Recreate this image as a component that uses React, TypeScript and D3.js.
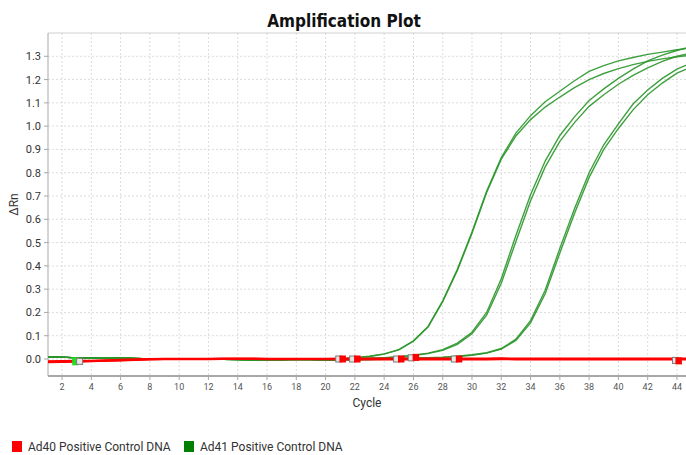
import * as d3 from "d3";

// cycles 1..45
const cycles = d3.range(1, 46);

// shared flat start of the Ad41 wells (cycles 1-20)
const greenStart = [0.010, 0.008, 0.005, 0.004, 0.003, 0.004, 0.002, 0.000, -0.001, 0.000,
  0.000, 0.000, -0.001, -0.002, -0.004, -0.005, -0.003, -0.001, -0.002, -0.004];

// cycles 21-45 per well
const ad41A1 = [0.000, 0.006, 0.012, 0.022, 0.040, 0.078, 0.140, 0.250, 0.385, 0.545, 0.720, 0.865, 0.970,
  1.045, 1.105, 1.150, 1.195, 1.235, 1.260, 1.280, 1.295, 1.308, 1.318, 1.328, 1.336];
const ad41A2 = [0.000, 0.005, 0.011, 0.021, 0.039, 0.076, 0.137, 0.246, 0.380, 0.540, 0.715, 0.858, 0.958,
  1.028, 1.082, 1.125, 1.165, 1.200, 1.226, 1.247, 1.264, 1.278, 1.289, 1.298, 1.305];
const ad41B1 = [-0.002, 0.000, 0.003, 0.006, 0.010, 0.016, 0.025, 0.040, 0.068, 0.115, 0.200, 0.345, 0.530,
  0.705, 0.850, 0.960, 1.040, 1.110, 1.160, 1.205, 1.245, 1.280, 1.305, 1.325, 1.342];
const ad41B2 = [-0.002, 0.000, 0.003, 0.005, 0.009, 0.015, 0.023, 0.037, 0.063, 0.108, 0.188, 0.325, 0.505,
  0.680, 0.825, 0.935, 1.015, 1.085, 1.135, 1.180, 1.218, 1.250, 1.278, 1.300, 1.315];
const ad41C1 = [-0.004, -0.003, -0.002, 0.000, 0.002, 0.004, 0.006, 0.008, 0.012, 0.018, 0.027, 0.045, 0.085,
  0.165, 0.295, 0.475, 0.645, 0.800, 0.920, 1.010, 1.095, 1.155, 1.205, 1.245, 1.272];
const ad41C2 = [-0.004, -0.003, -0.002, -0.001, 0.001, 0.003, 0.005, 0.007, 0.011, 0.016, 0.025, 0.042, 0.080,
  0.155, 0.280, 0.455, 0.625, 0.780, 0.900, 0.990, 1.070, 1.135, 1.185, 1.228, 1.255];

// Ad40 wells stay flat
const ad40R1 = [-0.012, -0.011, -0.010, -0.009, -0.007, -0.005, -0.003, -0.001, 0.000, 0.000,
  0.000, 0.000, 0.001, 0.001, 0.001, 0.000, 0.000, 0.000, 0.000, 0.000,
  0.000, 0.000, 0.000, 0.000, 0.000, 0.000, 0.000, 0.000, 0.000, 0.000,
  0.000, 0.001, 0.000, 0.000, 0.000, 0.000, 0.000, 0.000, 0.000, 0.000,
  0.000, 0.000, 0.000, 0.000, 0.000];
const ad40R2 = [-0.014, -0.013, -0.012, -0.010, -0.008, -0.006, -0.004, -0.002, -0.001, -0.001,
  -0.001, -0.001, 0.000, 0.000, 0.000, -0.001, -0.001, -0.001, -0.001, -0.001,
  -0.002, -0.002, -0.002, -0.002, -0.002, -0.002, -0.002, -0.002, -0.002, -0.002,
  -0.002, -0.001, -0.002, -0.002, -0.002, -0.002, -0.002, -0.002, -0.002, -0.002,
  -0.002, -0.002, -0.002, -0.002, -0.002];
const ad40R3 = [-0.010, -0.009, -0.008, -0.007, -0.005, -0.003, -0.001, 0.000, 0.001, 0.001,
  0.001, 0.001, 0.002, 0.002, 0.002, 0.001, 0.001, 0.001, 0.001, 0.001,
  0.002, 0.002, 0.002, 0.002, 0.002, 0.002, 0.002, 0.002, 0.002, 0.002,
  0.002, 0.003, 0.002, 0.002, 0.002, 0.002, 0.002, 0.002, 0.002, 0.002,
  0.002, 0.002, 0.002, 0.002, 0.002];

const greenWells = [ad41A1, ad41A2, ad41B1, ad41B2, ad41C1, ad41C2].map(tail => [...greenStart, ...tail]);
const redWells = [ad40R1, ad40R2, ad40R3];

// Ct / baseline markers
const markerCycles = [2.9, 3.2, 20.9, 21.15, 21.85, 22.15, 24.85, 25.15, 25.85, 26.15, 28.8, 29.1, 43.9, 44.1];
const markerValues = [-0.01, -0.01, 0, 0, 0, 0, 0, 0, 0.005, 0.007, 0, 0, -0.006, -0.008];
const markerKinds = ["green", "gray", "gray", "red", "gray", "red", "gray", "red", "gray", "red", "gray", "red", "gray", "red"];

const xTicks = d3.range(2, 46, 2);
const yTicks = d3.range(0, 14).map(i => i / 10);

const legendItems = ["Ad40 Positive Control DNA", "Ad41 Positive Control DNA"];
const legendColors = ["#ff0000", "#008000"];

const W = 686, H = 455;
const left = 48, top = 33, right = 686, bottom = 376;

export default function App() {
  const x = d3.scaleLinear().domain([1, 45]).range([47.4, 691.6]);
  const y = d3.scaleLinear().domain([-0.073, 1.4]).range([bottom, top]);

  const line = d3.line<number>()
    .x((_, i) => x(cycles[i]))
    .y(d => y(d));

  return (
    <svg width={W} height={H} style={{ position: "absolute", left: 0, top: 0, background: "#fff" }}
      fontFamily="Roboto, 'Liberation Sans', sans-serif">
      <defs>
        <clipPath id="plot">
          <rect x={left} y={top} width={right - left} height={bottom - top} />
        </clipPath>
      </defs>
      <rect width={W} height={H} fill="#fff" />

      <text x={344} y={27} textAnchor="middle" fontSize={17} fontWeight="bold"
        fontFamily="'Liberation Sans Narrow', 'DejaVu Sans Condensed', sans-serif" fill="#111">
        Amplification Plot
      </text>

      {/* grid */}
      <g stroke="#dcdcdc" strokeWidth={1} strokeDasharray="2,2">
        {xTicks.map(t => (
          <line key={"gx" + t} x1={x(t)} x2={x(t)} y1={top} y2={bottom} />
        ))}
        {yTicks.map(t => (
          <line key={"gy" + t} x1={left} x2={right} y1={y(t)} y2={y(t)} />
        ))}
      </g>

      {/* frame */}
      <line x1={left} x2={right} y1={top} y2={top} stroke="#d0d0d0" />
      <line x1={left} x2={left} y1={top} y2={bottom} stroke="#a8a8a8" />
      <line x1={left} x2={right} y1={bottom} y2={bottom} stroke="#a8a8a8" strokeWidth={2} />

      {/* y axis */}
      {yTicks.map(t => (
        <g key={"yt" + t}>
          <line x1={left - 4} x2={left} y1={y(t)} y2={y(t)} stroke="#a8a8a8" />
          <text x={41} y={y(t) + 4} textAnchor="end" fontSize={11} fill="#333">{t.toFixed(1)}</text>
        </g>
      ))}
      <text transform={`translate(18,${(top + bottom) / 2}) rotate(-90)`} textAnchor="middle"
        fontSize={12} fill="#333">ΔRn</text>

      {/* x axis */}
      {xTicks.map(t => (
        <g key={"xt" + t}>
          <line x1={x(t)} x2={x(t)} y1={bottom + 1} y2={bottom + 4} stroke="#a8a8a8" />
          <text x={x(t)} y={390} textAnchor="middle" fontSize={9} fill="#555">{t}</text>
        </g>
      ))}
      <text x={(left + right) / 2} y={407} textAnchor="middle" fontSize={12} fill="#333">Cycle</text>

      {/* curves */}
      <g clipPath="url(#plot)" fill="none">
        {greenWells.map((w, i) => (
          <path key={"g" + i} d={line(w) || ""} stroke="#2a962a" strokeWidth={1.4} strokeOpacity={0.9} />
        ))}
        {redWells.map((w, i) => (
          <path key={"r" + i} d={line(w) || ""} stroke="#ff0000" strokeWidth={2} />
        ))}
        {markerCycles.map((c, i) => {
          const k = markerKinds[i];
          const cx = x(c), cy = y(markerValues[i]);
          if (k === "gray")
            return <rect key={"m" + i} x={cx - 3} y={cy - 3} width={6} height={6} fill="#e8e8e8" stroke="#7a7a7a" strokeWidth={1} />;
          if (k === "green")
            return <rect key={"m" + i} x={cx - 3} y={cy - 4} width={6} height={8} fill="#22dd22" />;
          return <rect key={"m" + i} x={cx - 3} y={cy - 3.5} width={6.5} height={7} fill="#ff0000" />;
        })}
      </g>

      {/* legend */}
      {legendItems.map((name, i) => {
        const lx = i === 0 ? 12 : 184;
        return (
          <g key={name}>
            <rect x={lx} y={441} width={10} height={11} fill={legendColors[i]} />
            <text x={lx + 16} y={451} fontSize={12} fill="#333">{name}</text>
          </g>
        );
      })}
    </svg>
  );
}
